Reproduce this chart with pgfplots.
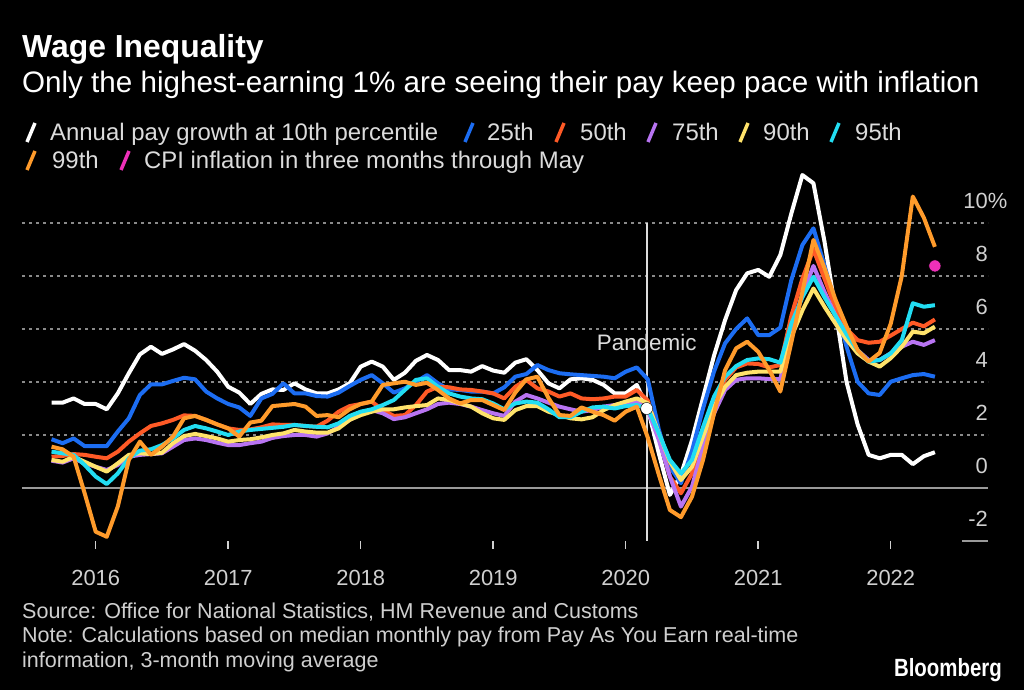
\documentclass[border=0pt]{standalone}
\usepackage{pgfplots}
\pgfplotsset{compat=1.18}
\usepackage{pgfplotstable}
\usepackage{fontspec}
\setmainfont{Liberation Sans}
\definecolor{cw}{HTML}{FFFFFF}
\definecolor{c25}{HTML}{1C6DF2}
\definecolor{c50}{HTML}{FF5A26}
\definecolor{c75}{HTML}{B874F2}
\definecolor{c90}{HTML}{FFE36B}
\definecolor{c95}{HTML}{22DDF2}
\definecolor{c99}{HTML}{FF9B2B}
\definecolor{cpi}{HTML}{EE30B9}
\definecolor{gridc}{HTML}{8A8A8A}
\definecolor{zeroc}{HTML}{9A9A9A}
\definecolor{legt}{HTML}{DCDCDC}
\definecolor{tickt}{HTML}{D0D0D0}
\definecolor{foot}{HTML}{CFCFCF}

\pgfplotstableread{
m w p25 p50 p75 p90 p95 p99
-4 3.22 1.84 1.18 1.03 1.06 1.37 1.56
-3 3.22 1.69 1.21 0.96 0.99 1.31 1.46
-2 3.38 1.87 1.28 1.12 1.18 1.25 1.18
-1 3.17 1.58 1.25 0.93 0.99 0.87 -0.20
0 3.17 1.58 1.18 0.80 0.80 0.43 -1.65
1 2.97 1.58 1.12 0.68 0.62 0.15 -1.84
2 3.57 2.13 1.37 0.87 0.93 0.55 -0.70
3 4.33 2.63 1.75 1.18 1.25 1.12 1.06
4 5.04 3.51 2.06 1.25 1.31 1.41 1.75
5 5.33 3.91 2.34 1.28 1.28 1.46 1.25
6 5.06 3.91 2.44 1.31 1.33 1.62 1.56
7 5.23 4.04 2.57 1.56 1.69 1.87 1.94
8 5.43 4.16 2.74 1.81 1.96 2.19 2.63
9 5.18 4.10 2.72 1.87 2.04 2.34 2.72
10 4.83 3.64 2.57 1.81 1.96 2.25 2.57
11 4.39 3.38 2.40 1.71 1.87 2.13 2.40
12 3.82 3.17 2.25 1.62 1.75 2.00 2.25
13 3.60 3.04 2.19 1.62 1.81 2.13 1.94
14 3.17 2.72 2.21 1.69 1.84 2.19 2.47
15 3.55 3.38 2.29 1.75 1.91 2.23 2.54
16 3.72 3.55 2.40 1.89 2.00 2.27 3.09
17 3.70 3.95 2.38 1.96 2.06 2.31 3.13
18 3.95 3.57 2.38 2.00 2.19 2.38 3.17
19 3.72 3.57 2.34 2.00 2.13 2.34 3.07
20 3.57 3.47 2.31 1.94 2.09 2.31 2.72
21 3.57 3.45 2.54 2.06 2.09 2.29 2.75
22 3.72 3.60 2.88 2.31 2.25 2.44 2.67
23 3.95 3.85 3.09 2.57 2.57 2.72 2.97
24 4.58 4.08 3.17 2.82 2.75 2.88 3.17
25 4.77 4.26 3.26 2.94 2.88 2.97 3.26
26 4.58 3.95 2.94 2.82 2.97 3.13 3.89
27 4.08 3.60 2.72 2.60 2.97 3.32 3.95
28 4.35 3.76 2.75 2.67 3.04 3.70 4.01
29 4.80 4.01 3.13 2.82 3.09 4.08 3.89
30 5.02 4.26 3.64 2.97 3.13 4.14 3.97
31 4.83 3.95 3.82 3.17 3.38 3.82 3.70
32 4.45 3.72 3.80 3.22 3.32 3.57 3.38
33 4.45 3.70 3.72 3.17 3.19 3.45 3.19
34 4.39 3.64 3.70 3.07 3.07 3.38 3.32
35 4.60 3.64 3.64 2.94 2.82 3.35 3.32
36 4.43 3.57 3.57 2.82 2.63 3.19 3.13
37 4.35 3.80 3.38 2.72 2.57 2.97 2.94
38 4.73 4.20 3.82 3.26 2.94 3.19 3.60
39 4.86 4.30 4.08 3.51 3.09 3.26 4.10
40 4.45 4.64 3.76 3.38 3.09 3.22 4.20
41 3.95 4.45 3.64 3.22 2.88 2.97 3.40
42 3.76 4.33 3.45 3.07 2.75 2.67 2.75
43 4.10 4.29 3.57 2.97 2.63 2.67 2.72
44 4.14 4.26 3.38 2.88 2.59 2.88 3.04
45 4.08 4.23 3.35 2.94 2.67 3.04 2.88
46 3.89 4.20 3.38 3.07 2.94 3.07 2.75
47 3.57 4.14 3.45 3.13 3.13 3.00 2.54
48 3.57 4.39 3.45 3.17 3.26 3.09 2.88
49 3.89 4.55 3.70 3.26 3.38 3.13 3.07
50 3.00 4.10 3.30 2.94 3.20 3.00 1.90
51 1.30 2.20 1.94 1.81 2.06 2.06 0.50
52 -0.26 0.80 0.43 0.43 1.00 1.06 -0.83
53 0.50 0.18 -0.20 -0.70 0.30 0.55 -1.10
54 1.80 1.40 0.55 0.05 0.80 1.06 -0.33
55 3.40 3.00 2.06 1.56 1.94 2.30 1.06
56 5.00 4.40 3.32 2.82 3.07 3.45 2.82
57 6.34 5.46 4.08 3.70 3.82 4.20 4.45
58 7.47 6.00 4.55 4.08 4.26 4.60 5.27
59 8.10 6.40 4.70 4.14 4.35 4.83 5.52
60 8.23 5.77 4.68 4.14 4.39 4.89 5.14
61 7.97 5.77 4.55 4.11 4.39 4.86 4.45
62 8.79 6.05 4.64 4.11 4.39 4.73 3.64
63 10.36 7.85 6.50 6.00 5.70 6.20 5.50
64 11.81 9.17 7.90 7.30 6.70 7.20 7.40
65 11.50 9.80 9.00 8.38 7.53 7.97 9.36
66 9.30 8.40 7.90 7.40 6.84 7.20 8.30
67 6.70 6.90 6.80 6.50 6.20 6.50 7.10
68 4.00 5.33 6.00 5.80 5.60 5.80 6.10
69 2.40 4.01 5.58 5.20 5.08 5.20 5.20
70 1.25 3.57 5.48 4.83 4.77 4.77 4.77
71 1.12 3.51 5.52 4.83 4.58 4.83 5.10
72 1.25 4.01 5.75 5.08 4.90 5.08 6.20
73 1.25 4.14 6.00 5.33 5.33 5.58 8.00
74 0.90 4.26 6.24 5.52 5.90 6.97 11.00
75 1.20 4.30 6.10 5.40 5.84 6.84 10.20
76 1.35 4.20 6.36 5.58 6.09 6.90 9.10
}\wages

\newcommand{\legfont}{\fontsize{24}{28}\selectfont}
\newcommand{\legitem}[5]{%
  \draw[#1, line width=3.5bp] (#2bp-4bp,#4bp-1bp) -- (#2bp+4bp,#4bp+18bp);
  \node[anchor=base west, inner sep=0pt, text=legt, font=\legfont] at (#3bp,#4bp) {#5};}

\begin{document}
\begin{tikzpicture}
\useasboundingbox (0bp,0bp) rectangle (1024bp,690bp);
\fill[black] (0bp,0bp) rectangle (1024bp,690bp);

\node[anchor=base west, inner sep=0pt, text=white, font=\fontsize{32}{36}\selectfont\bfseries] at (22bp,632bp) {Wage Inequality};
\node[anchor=base west, inner sep=0pt, text=white, font=\fontsize{29.7}{34}\selectfont] at (22bp,597bp) {Only the highest-earning 1\% are seeing their pay keep pace with inflation};

\legitem{cw}{31}{50}{549}{Annual pay growth at 10th percentile}
\legitem{c25}{469}{487}{549}{25th}
\legitem{c50}{560}{580}{549}{50th}
\legitem{c75}{652}{672}{549}{75th}
\legitem{c90}{744}{763}{549}{90th}
\legitem{c95}{835}{855}{549}{95th}
\legitem{c99}{31}{52}{521}{99th}
\legitem{cpi}{125}{144}{521}{CPI inflation in three months through May}

\begin{axis}[
  at={(22bp,149bp)}, anchor=south west,
  scale only axis, width=966bp, height=384.25bp,
  xmin=-6.675, xmax=80.81, ymin=-2, ymax=12.5,
  axis line style={draw=none},
  xtick={0,12,24,36,48,60,72},
  xticklabels={2016,2017,2018,2019,2020,2021,2022},
  xtick pos=bottom, tick align=outside,
  major tick length=8bp,
  x tick style={color=tickt, line width=1.5bp},
  ytick={-2,0,2,4,6,8,10},
  yticklabels={-2,0,2,4,6,8,10\rlap{\%}},
  ytick style={draw=none},
  yticklabel pos=right,
  ticklabel style={font=\fontsize{22}{24}\selectfont, text=tickt},
  xticklabel style={anchor=base, inner sep=0pt, yshift=-37bp},
  yticklabel style={anchor=base east, inner sep=0pt, yshift=14.5bp, xshift=-8bp},
  clip=false,
]
\foreach \g in {2,4,6,8,10} {
  \edef\tmp{\noexpand\draw[gridc, line width=1.6bp, dash pattern=on 3bp off 4bp] (axis cs:-6.675,\g) -- (axis cs:80.81,\g);}
  \tmp
}
\draw[zeroc, line width=1.5bp] (axis cs:-6.675,0) -- (axis cs:80.81,0);
\draw[zeroc, line width=1.5bp] (axis cs:78.45,-2) -- (axis cs:80.81,-2);
\draw[legt, line width=1.6bp] (axis cs:49.9,-2) -- (axis cs:49.9,10);

\addplot[cw, line width=4bp, line join=round, no markers] table[x=m, y=w] {\wages};
\addplot[c25, line width=4bp, line join=round, no markers] table[x=m, y=p25] {\wages};
\addplot[c50, line width=4bp, line join=round, no markers] table[x=m, y=p50] {\wages};
\addplot[c75, line width=4bp, line join=round, no markers] table[x=m, y=p75] {\wages};
\addplot[c90, line width=4bp, line join=round, no markers] table[x=m, y=p90] {\wages};
\addplot[c95, line width=4bp, line join=round, no markers] table[x=m, y=p95] {\wages};
\addplot[c99, line width=4bp, line join=round, no markers] table[x=m, y=p99] {\wages};

\addplot[only marks, mark=*, mark size=6bp, mark options={fill=white, draw=none}] coordinates {(49.9,3.0)};
\addplot[only marks, mark=*, mark size=6bp, mark options={fill=cpi, draw=none}] coordinates {(76,8.38)};

\node[anchor=base, inner sep=0pt, text=legt, font=\fontsize{22.5}{26}\selectfont] at (axis cs:49.9,5.17) {Pandemic};
\end{axis}

\node[anchor=base west, inner sep=0pt, text=foot, font=\fontsize{21.6}{24}\selectfont] at (22bp,71bp) {Source: Office for National Statistics, HM Revenue and Customs};
\node[anchor=base west, inner sep=0pt, text=foot, font=\fontsize{21.6}{24}\selectfont] at (22bp,47bp) {Note: Calculations based on median monthly pay from Pay As You Earn real-time};
\node[anchor=base west, inner sep=0pt, text=foot, font=\fontsize{21.6}{24}\selectfont] at (22bp,23bp) {information, 3-month moving average};
\node[anchor=base east, inner sep=0pt, text=white, font=\fontsize{25}{28}\selectfont\bfseries] at (1002bp,14bp) {\scalebox{0.82}[1]{Bloomberg}};
\end{tikzpicture}
\end{document}
